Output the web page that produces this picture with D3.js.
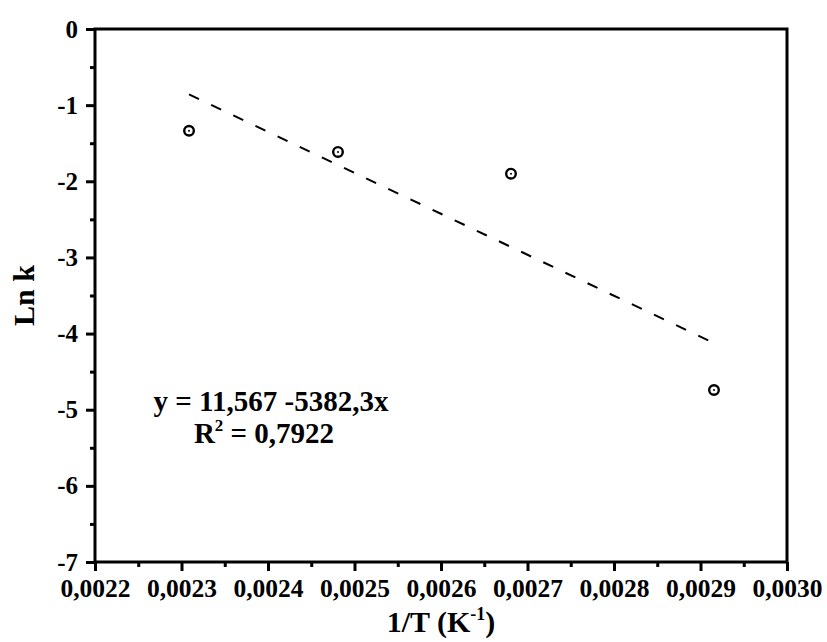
<!DOCTYPE html>
<html>
<head>
<meta charset="utf-8">
<script src="https://cdn.jsdelivr.net/npm/d3@7"></script>
<style>
  body { margin: 0; background: #fff; }
  text { font-family: "Liberation Serif", "Times New Roman", serif; font-weight: bold; fill: #000; }
</style>
</head>
<body>
<div class="container"></div>
<script>
const W = 827, H = 642;
const LEFT = 95, RIGHT = 787, TOP = 29, BOTTOM = 562;

// data (1/T, Ln k)
var invT = [0.0023087, 0.0024809, 0.0026809, 0.0029156];
var lnK = [-1.336, -1.615, -1.90, -4.741];

// linear fit shown on the chart
var intercept = 11.567;
var slope = -5382.3;

var xTicks = [0.0022, 0.0023, 0.0024, 0.0025, 0.0026, 0.0027, 0.0028, 0.0029, 0.0030];
var yTicks = [0, -1, -2, -3, -4, -5, -6, -7];

var x = d3.scaleLinear().domain([0.0022, 0.0030]).range([LEFT, RIGHT]);
var y = d3.scaleLinear().domain([-7, 0]).range([BOTTOM, TOP]);

var svg = d3.select(".container").append("svg")
    .attr("width", W).attr("height", H);

var fmtX = function(d){ return d.toFixed(4).replace(".", ","); };
var fmtY = function(d){ return String(d); };

// minor ticks
var xMinor = d3.range(0, xTicks.length - 1).map(function(i){ return (xTicks[i] + xTicks[i+1]) / 2; });
var yMinor = d3.range(0, yTicks.length - 1).map(function(i){ return (yTicks[i] + yTicks[i+1]) / 2; });

svg.append("g")
    .attr("transform", "translate(0," + BOTTOM + ")")
    .call(d3.axisBottom(x).tickValues(xMinor).tickSize(5).tickFormat(""))
    .call(function(g){ g.select(".domain").remove(); g.selectAll("line").attr("stroke-width", 3); });

svg.append("g")
    .attr("transform", "translate(" + LEFT + ",0)")
    .call(d3.axisLeft(y).tickValues(yMinor).tickSize(5).tickFormat(""))
    .call(function(g){ g.select(".domain").remove(); g.selectAll("line").attr("stroke-width", 3); });

// major axes
var xAxis = svg.append("g")
    .attr("transform", "translate(0," + BOTTOM + ")")
    .call(d3.axisBottom(x).tickValues(xTicks).tickSize(9).tickPadding(8).tickFormat(fmtX));
xAxis.select(".domain").remove();
xAxis.selectAll("line").attr("stroke-width", 3);
xAxis.selectAll("text").attr("font-size", "25.5px").attr("font-family", null);

var yAxis = svg.append("g")
    .attr("transform", "translate(" + LEFT + ",0)")
    .call(d3.axisLeft(y).tickValues(yTicks).tickSize(9).tickPadding(8).tickFormat(fmtY));
yAxis.select(".domain").remove();
yAxis.selectAll("line").attr("stroke-width", 3);
yAxis.selectAll("text").attr("font-size", "25px").attr("font-family", null);

// frame
svg.append("rect")
    .attr("x", LEFT).attr("y", TOP)
    .attr("width", RIGHT - LEFT).attr("height", BOTTOM - TOP)
    .attr("fill", "none").attr("stroke", "#000").attr("stroke-width", 3);

// fit line
var xr = d3.extent(invT);
var fitLine = d3.line()
    .x(function(d){ return x(d); })
    .y(function(d){ return y(intercept + slope * d); });
svg.append("path")
    .attr("d", fitLine(xr))
    .attr("fill", "none")
    .attr("stroke", "#000")
    .attr("stroke-width", 2)
    .attr("stroke-dasharray", "11,13.5");

// points
var pts = svg.selectAll(".pt")
    .data(invT.map(function(d, i){ return {x: d, y: lnK[i]}; }))
    .enter().append("g")
    .attr("transform", function(d){ return "translate(" + x(d.x) + "," + y(d.y) + ")"; });
pts.append("circle").attr("r", 4.8).attr("fill", "#fff").attr("stroke", "#000").attr("stroke-width", 2.4);
pts.append("circle").attr("r", 1).attr("fill", "#000");

// equation
svg.append("text").attr("x", 271).attr("y", 411).attr("text-anchor", "middle")
    .attr("font-size", "29px").text("y = 11,567 -5382,3x");
var r2 = svg.append("text").attr("x", 264).attr("y", 443).attr("text-anchor", "middle")
    .attr("font-size", "29px");
r2.append("tspan").text("R");
r2.append("tspan").attr("dy", -12).attr("font-size", "17px").text("2");
r2.append("tspan").attr("dy", 12).text(" = 0,7922");

// axis titles
var xt = svg.append("text").attr("x", (LEFT + RIGHT) / 2).attr("y", 632)
    .attr("text-anchor", "middle").attr("font-size", "30px");
xt.append("tspan").text("1/T (K");
xt.append("tspan").attr("dy", -12).attr("font-size", "18px").text("-1");
xt.append("tspan").attr("dy", 12).text(")");

svg.append("text")
    .attr("transform", "translate(34," + ((TOP + BOTTOM) / 2) + ") rotate(-90)")
    .attr("text-anchor", "middle").attr("font-size", "30px").text("Ln k");
</script>
</body>
</html>
